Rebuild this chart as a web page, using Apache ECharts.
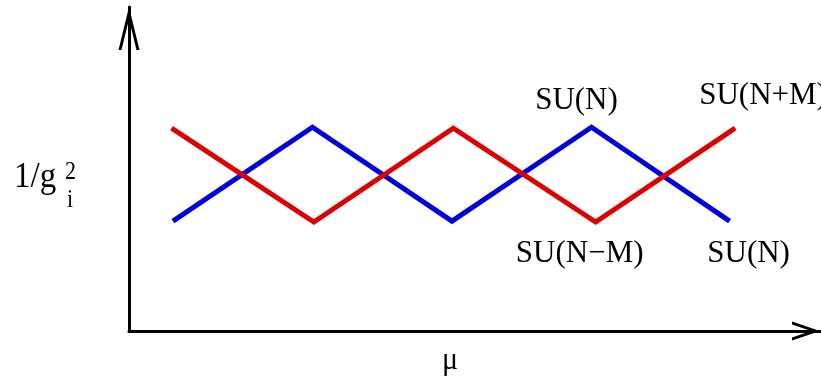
<!DOCTYPE html>
<html>
<head>
<meta charset="utf-8">
<script src="https://cdn.jsdelivr.net/npm/echarts@6/dist/echarts.min.js"></script>
<style>
  html, body { margin: 0; padding: 0; background: #ffffff; }
  #chart { width: 821px; height: 378px; }
</style>
</head>
<body>
<div id="chart"></div>
<script>
// Running couplings 1/g_i^2 versus scale mu (arbitrary units)
const blueX = [1.00, 2.00, 3.00, 4.00, 4.99];
const blueY = [1.17, 2.17, 1.17, 2.17, 1.17];
const redX  = [0.99, 2.01, 3.01, 4.03, 5.03];
const redY  = [2.16, 1.16, 2.16, 1.16, 2.16];

// Group names attached to individual points (index -> text)
const blueNames = { 3: 'SU(N)', 4: 'SU(N)' };
const redNames  = { 3: 'SU(N\u2212M)', 4: 'SU(N+M)' };

const SERIF = '"Liberation Serif", "DejaVu Serif", serif';

// open chevron heads for the axes (tip at the top of the box)
const arrowY = 'path://M0,43 L10.5,0 L21,43 L18,43 L10.5,12.3 L3,43 Z';
const arrowX = 'path://M0,28 L9.5,0 L19,28 L16,28 L9.5,8.84 L3,28 Z';

const labelPlacement = {
  blue: {
    3: { offset: [-15, -26], align: 'center' },
    4: { offset: [19, 33], align: 'center' }
  },
  red: {
    3: { offset: [-16, 32], align: 'center' },
    4: { offset: [-36, -32], align: 'left' }
  }
};

function buildData(xs, ys, names, place) {
  return xs.map((x, i) => {
    const item = { value: [x, ys[i]] };
    if (names[i]) {
      item.label = {
        show: true,
        formatter: names[i],
        position: 'inside',
        offset: place[i].offset,
        align: place[i].align,
        verticalAlign: 'middle',
        color: '#000',
        fontFamily: SERIF,
        fontSize: 31
      };
    }
    return item;
  });
}

function axisText(text, x, y, size, align, sy) {
  return {
    type: 'text',
    x: x,
    y: y,
    scaleY: sy,
    style: {
      text: text,
      x: 0,
      y: 0,
      align: align,
      verticalAlign: 'middle',
      font: size + 'px ' + SERIF,
      fill: '#000'
    }
  };
}

const chart = echarts.init(document.getElementById('chart'), null, { renderer: 'canvas' });

chart.setOption({
  animation: false,
  backgroundColor: '#ffffff',
  grid: { left: 129, right: 1, top: 7, bottom: 47 },
  xAxis: {
    type: 'value',
    min: 0.685,
    max: 5.638,
    axisLine: {
      show: true,
      onZero: false,
      symbol: ['none', arrowX],
      symbolSize: [19, 28],
      symbolOffset: [0, -14],
      lineStyle: { color: '#000', width: 3 }
    },
    axisTick: { show: false },
    axisLabel: { show: false },
    splitLine: { show: false }
  },
  yAxis: {
    type: 'value',
    min: 0,
    max: 3.45,
    axisLine: {
      show: true,
      onZero: false,
      symbol: ['none', arrowY],
      symbolSize: [21, 43],
      symbolOffset: [0, -21.5],
      lineStyle: { color: '#000', width: 3 }
    },
    axisTick: { show: false },
    axisLabel: { show: false },
    splitLine: { show: false }
  },
  series: [
    {
      type: 'line',
      data: buildData(blueX, blueY, blueNames, labelPlacement.blue),
      symbol: 'circle',
      symbolSize: 0,
      showSymbol: true,
      lineStyle: { color: '#0000dd', width: 5, cap: 'butt', join: 'miter' },
      itemStyle: { color: '#0000dd' },
      z: 3
    },
    {
      type: 'line',
      data: buildData(redX, redY, redNames, labelPlacement.red),
      symbol: 'circle',
      symbolSize: 0,
      showSymbol: true,
      lineStyle: { color: '#dd0000', width: 5, cap: 'butt', join: 'miter' },
      itemStyle: { color: '#dd0000' },
      z: 4
    }
  ],
  graphic: [
    axisText('1/g', 14, 177.5, 33, 'left', 1.08),
    axisText('2', 65, 172, 22, 'left', 1.15),
    axisText('i', 67, 200, 22, 'left', 1.15),
    axisText('\u03bc', 450, 361, 30, 'center', 1.05)
  ]
});
</script>
</body>
</html>
